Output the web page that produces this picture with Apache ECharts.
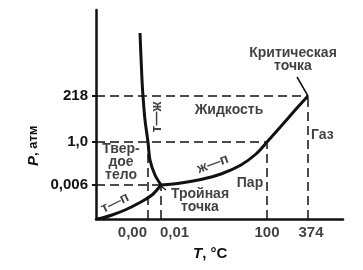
<!DOCTYPE html>
<html>
<head>
<meta charset="utf-8">
<script src="https://cdn.jsdelivr.net/npm/echarts@6/dist/echarts.min.js"></script>
<style>html,body{margin:0;padding:0;background:#fff}#c{width:363px;height:270px}</style>
</head>
<body>
<div id="c"></div>
<script>
// Schematic (non-linear) phase diagram of water. Units are schematic axis units.
const yTickLabels = ['0,006', '1,0', '218'];
const yTickPos = [34, 77, 123];
const xTickLabels = ['0,00', '0,01', '100', '374'];
const xTickPos = [52, 65, 171, 212];

const solidVapor = [[0, 0], [6, 1], [16, 4], [29, 9], [43, 16], [56, 24], [65, 34]];
const solidLiquid = [[44, 186], [46, 139], [47, 123], [49, 99], [52, 77], [54, 59], [59, 44], [65, 34]];
const liquidVapor = [[65, 34], [85, 36], [105, 39.5], [125, 45], [145, 54], [160, 65], [171, 77], [187, 95], [201, 111], [212, 123]];

const triplePoint = [65, 34];
const criticalPoint = [212, 123];
const meltPoint = [52, 77];
const boilPoint = [171, 77];

const regionLabels = [
  { name: 'Критическая\nточка', value: [197, 159], rotate: 0 },
  { name: 'Жидкость', value: [133, 109], rotate: 0 },
  { name: 'т—ж', value: [61, 102], rotate: 90 },
  { name: 'Твер-\nдое\nтело', value: [25, 57], rotate: 0 },
  { name: 'т—п', value: [19, 16], rotate: 26 },
  { name: 'ж—п', value: [117, 55], rotate: 20 },
  { name: 'Пар', value: [154, 36], rotate: 0 },
  { name: 'Тройная\nточка', value: [104, 18], rotate: 0 }
];
const gasLabel = { name: 'Газ', value: [215, 84] };

const FONT = 'Liberation Sans';
const INK = '#111';

const dashStyle = { color: INK, width: 1.5, type: [9, 5] };
function seg(a, b) { return { type: 'line', data: [a, b], symbol: 'none', silent: true, lineStyle: dashStyle, z: 2 }; }

const dashed = [
  seg([0, criticalPoint[1]], criticalPoint),
  seg([0, boilPoint[1]], boilPoint),
  seg([0, triplePoint[1]], triplePoint),
  seg([meltPoint[0], 0], meltPoint),
  seg([triplePoint[0], 0], triplePoint),
  seg([boilPoint[0], 0], boilPoint),
  seg([criticalPoint[0], 0], criticalPoint)
];

function curve(d) {
  return { type: 'line', data: d, symbol: 'none', smooth: 0.3, silent: true,
    lineStyle: { color: INK, width: 3 }, z: 5 };
}

const xLabelPlace = [
  { position: 'left', distance: 1 },
  { position: 'right', distance: -1 },
  { position: 'inside' },
  { position: 'inside', offset: [3, 0] }
];

const xLabelSeries = {
  type: 'scatter', symbolSize: 0, silent: true, z: 6, clip: false,
  data: xTickLabels.map((t, i) => ({ name: t, value: [xTickPos[i], -14], label: xLabelPlace[i] })),
  label: { show: true, formatter: p => p.name, color: INK, fontFamily: FONT, fontWeight: 'bold', fontSize: 15 }
};

const textSeries = {
  type: 'scatter', symbolSize: 0, silent: true, z: 6, clip: false,
  data: regionLabels.map(r => ({ name: r.name, value: r.value,
    label: { rotate: r.rotate } })).concat([{ name: gasLabel.name, value: gasLabel.value,
    label: { position: 'right', distance: 0, align: 'left' } }]),
  label: { show: true, position: 'inside', formatter: p => p.name, color: INK,
    fontFamily: FONT, fontWeight: 'bold', fontSize: 14, lineHeight: 13, align: 'center' }
};

const pointers = [
  { type: 'line', data: [[201, 142], criticalPoint], symbol: 'none', silent: true, lineStyle: { color: INK, width: 1.5 }, z: 4 },
  { type: 'line', data: [[65, 33], [70, 29]], symbol: 'none', silent: true, lineStyle: { color: INK, width: 1.2 }, z: 4 }
];

const chart = echarts.init(document.getElementById('c'), null, { renderer: 'canvas' });
chart.setOption({
  backgroundColor: '#fff',
  animation: false,
  grid: { left: 96, top: 10, width: 247, height: 209, containLabel: false, outerBoundsMode: 'none' },
  xAxis: {
    type: 'value', min: 0, max: 247,
    axisLine: { show: true, onZero: false, lineStyle: { color: INK, width: 2.5 } },
    axisTick: { show: false }, axisLabel: { show: false }, splitLine: { show: false }
  },
  yAxis: {
    type: 'value', min: 0, max: 209,
    axisLine: { show: true, onZero: false, lineStyle: { color: INK, width: 2.5 } },
    axisTick: { show: true, length: 4, customValues: yTickPos, lineStyle: { color: INK, width: 2 } },
    axisLabel: { show: true, customValues: yTickPos, margin: 8,
      formatter: v => yTickLabels[yTickPos.indexOf(v)],
      color: INK, fontFamily: FONT, fontWeight: 'bold', fontSize: 15 },
    splitLine: { show: false }
  },
  series: [...dashed, curve(solidVapor), curve(solidLiquid), curve(liquidVapor), ...pointers, xLabelSeries, textSeries],
  graphic: [
    { type: 'text', left: 193, top: 246, style: { text: '{i|T}, °C', fill: INK, font: 'bold 15px ' + FONT,
      rich: { i: { fontStyle: 'italic', fontWeight: 'bold', fontSize: 15, fontFamily: FONT, fill: INK } } } },
    { type: 'text', x: 26, y: 166, rotation: Math.PI / 2, style: { text: '{i|P}, атм', fill: INK, font: 'bold 13px ' + FONT,
      rich: { i: { fontStyle: 'italic', fontWeight: 'bold', fontSize: 15, fontFamily: FONT, fill: INK } } } }
  ]
});
</script>
</body>
</html>
